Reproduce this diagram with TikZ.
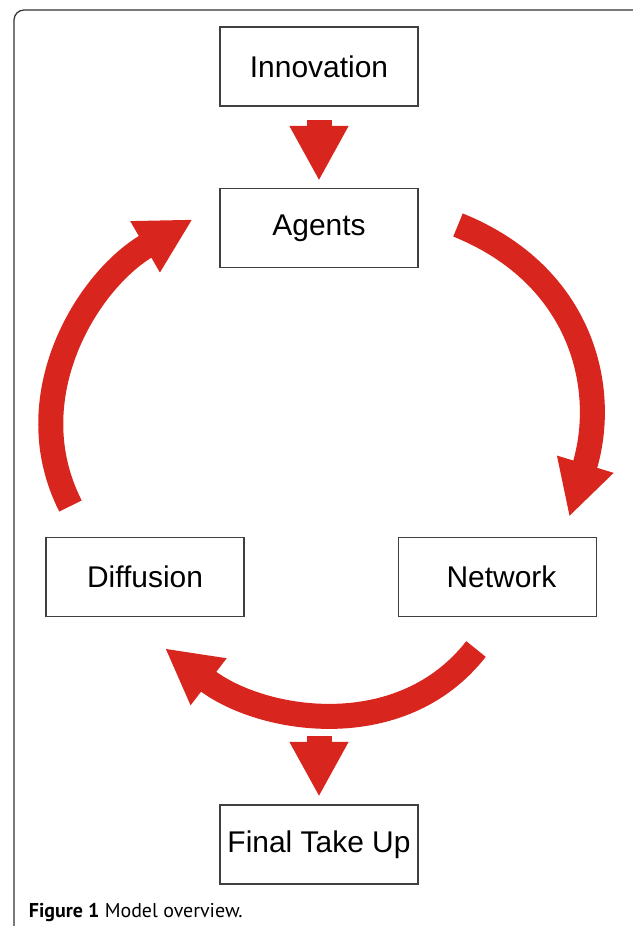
\documentclass[tikz,border=0pt]{standalone}
\usepackage{fontspec}
\setmainfont{Liberation Sans}
\newfontfamily\capfont{PT Sans}
\usetikzlibrary{arrows.meta}
\definecolor{flowred}{RGB}{216,37,30}
\begin{document}
\begin{tikzpicture}
        [box/.style={rectangle,draw=black!75,line width=0.9pt,minimum width=4.95cm,minimum height=1.975cm,inner sep=0pt,font=\fontsize{21.3}{25}\selectfont},
        flow/.style={flowred,line width=0.625cm,-{Triangle[width=1.375cm,length=1.375cm]}}]
        \useasboundingbox (0,0) rectangle (15.825,-23.15);
        \draw[black!80, line width=0.9pt, rounded corners=0.25cm] (0.35,-23.15) -- (0.35,-0.25) -- (15.825,-0.25);

        \node[box] (innov) at (7.975,-1.6625) {Innovation};
        \node[box] (agents) at (7.975,-5.7) {Agents};
        \node[box] (diff) at (3.625,-14.425) {Diffusion};
        \node[box] (netw) at (12.4375,-14.425) {\hspace{0.2cm}Network};
        \node[box] (final) at (7.975,-21.1125) {Final Take Up};

        \coordinate (rtail) at (11.45,-5.625);
        \coordinate (rtip) at (14.23,-12.92);
        \coordinate (btail) at (11.9,-16.225);
        \coordinate (btip) at (4.125,-16.2075);
        \coordinate (ltail) at (1.7625,-12.65);
        \coordinate (ltip) at (4.8175,-5.4825);
        \coordinate (drop) at (7.975,-18.4);

        \draw[flow] ([yshift=-0.325cm]innov.south) -- ([yshift=0.175cm]agents.north);
        \draw[flow] (rtail) to[out=-22, in=73, looseness=1.1] (rtip);% to network
        \draw[flow] (btail) to[out=-128, in=-37.5] (btip);% to diffusion
        \draw[flow] (ltail) to[out=117, in=210] (ltip);% back to agents
        \draw[flow] (drop) -- ([yshift=0.19cm]final.north);

        \node[anchor=base west, font=\capfont\fontsize{14.2}{16}\selectfont] (cap) at (0.6,-22.925) {\textbf{Figure 1} Model overview.};
    \end{tikzpicture}
\end{document}
